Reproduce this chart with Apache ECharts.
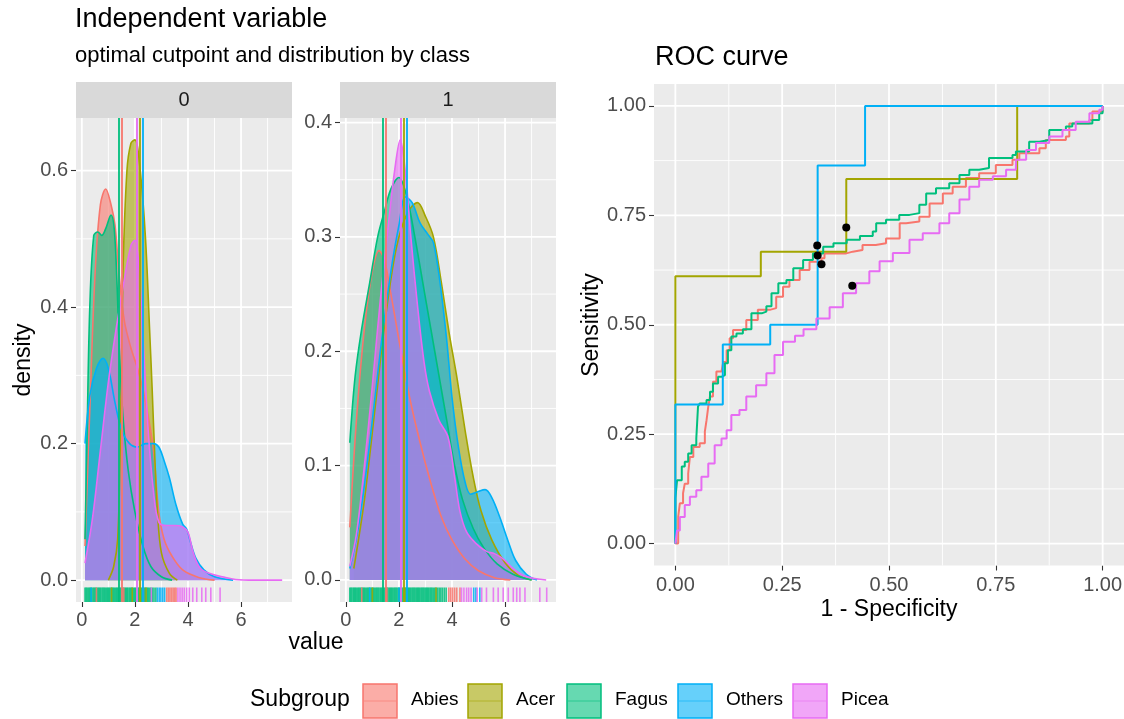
<!DOCTYPE html>
<html>
<head>
<meta charset="utf-8">
<script src="https://cdn.jsdelivr.net/npm/echarts@6/dist/echarts.min.js"></script>
<style>
  html, body { margin: 0; background: #fff; }
  #chart { width: 1124px; height: 719px; }
</style>
</head>
<body>
<div id="chart"></div>
<script>
// subgroups and ggplot default hue colours
const groups = ['Abies', 'Acer', 'Fagus', 'Others', 'Picea'];
const colors = ['#F8766D', '#A3A500', '#00BF7D', '#00B0F6', '#E76BF3'];

// optimal cutpoints (same in both facets)
const cutpoints = [1.50, 2.19, 1.40, 2.29, 2.08];

// density, class 0
const abies0 = [[0.12,0.05],[0.3,0.25],[0.5,0.45],[0.7,0.55],[0.9,0.573],[1.1,0.55],[1.25,0.52],[1.4,0.45],[1.6,0.38],[1.85,0.34],[2.1,0.31],[2.3,0.28],[2.5,0.24],[2.7,0.19],[2.9,0.1],[3.1,0.06],[3.4,0.035],[3.8,0.015],[4.4,0.004],[5.0,0]];
const acer0 = [[1.0,0],[1.2,0.02],[1.35,0.06],[1.45,0.2],[1.55,0.45],[1.7,0.6],[1.85,0.64],[2.0,0.645],[2.2,0.6],[2.4,0.5],[2.55,0.37],[2.65,0.28],[2.75,0.18],[2.85,0.1],[3.0,0.04],[3.3,0.01],[3.6,0]];
const fagus0 = [[0.12,0.06],[0.2,0.22],[0.3,0.4],[0.45,0.505],[0.6,0.51],[0.75,0.505],[0.9,0.515],[1.1,0.535],[1.22,0.515],[1.32,0.44],[1.42,0.33],[1.55,0.24],[1.75,0.16],[2.0,0.1],[2.3,0.05],[2.6,0.02],[3.0,0.005],[3.4,0]];
const others0 = [[0.12,0.2],[0.3,0.27],[0.55,0.31],[0.8,0.325],[1.0,0.31],[1.25,0.26],[1.5,0.22],[1.8,0.2],[2.1,0.195],[2.4,0.2],[2.7,0.2],[2.9,0.195],[3.1,0.175],[3.3,0.15],[3.55,0.11],[3.8,0.082],[3.95,0.075],[4.1,0.055],[4.3,0.032],[4.6,0.015],[5.0,0.005],[5.7,0]];
const picea0 = [[0.12,0.025],[0.4,0.09],[0.7,0.19],[1.0,0.29],[1.3,0.37],[1.6,0.44],[1.85,0.49],[2.0,0.498],[2.15,0.46],[2.3,0.36],[2.5,0.22],[2.7,0.13],[2.9,0.085],[3.2,0.08],[3.5,0.08],[3.8,0.078],[4.0,0.07],[4.2,0.04],[4.45,0.018],[4.8,0.01],[5.3,0.005],[5.8,0.001],[6.5,0],[7.55,0]];

// density, class 1
const abies1 = [[0.15,0.046],[0.4,0.14],[0.7,0.22],[1.0,0.27],[1.25,0.288],[1.45,0.28],[1.7,0.25],[2.0,0.21],[2.4,0.16],[2.8,0.12],[3.2,0.085],[3.6,0.055],[4.0,0.035],[4.5,0.018],[5.0,0.008],[5.6,0.002],[6.2,0]];
const acer1 = [[0.3,0.01],[0.7,0.07],[1.1,0.15],[1.5,0.23],[1.9,0.29],[2.3,0.32],[2.7,0.33],[3.0,0.318],[3.3,0.3],[3.6,0.26],[3.9,0.215],[4.2,0.175],[4.5,0.13],[4.8,0.09],[5.1,0.06],[5.5,0.035],[6.0,0.015],[6.5,0.004],[7.0,0]];
const fagus1 = [[0.15,0.12],[0.35,0.178],[0.6,0.22],[0.9,0.26],[1.2,0.3],[1.45,0.322],[1.7,0.342],[2.0,0.352],[2.3,0.335],[2.6,0.3],[2.9,0.26],[3.2,0.22],[3.5,0.18],[3.8,0.14],[4.1,0.1],[4.4,0.07],[4.8,0.045],[5.2,0.028],[5.7,0.014],[6.3,0.005],[7.0,0]];
const others1 = [[0.15,0.01],[0.5,0.05],[0.9,0.12],[1.3,0.2],[1.7,0.27],[2.0,0.31],[2.25,0.335],[2.5,0.33],[2.8,0.312],[3.1,0.302],[3.3,0.295],[3.55,0.26],[3.8,0.21],[4.0,0.16],[4.25,0.115],[4.5,0.085],[4.7,0.075],[4.95,0.077],[5.25,0.079],[5.5,0.072],[5.8,0.055],[6.1,0.035],[6.4,0.017],[6.8,0.005],[7.2,0]];
const picea1 = [[0.15,0.012],[0.4,0.04],[0.7,0.1],[1.0,0.17],[1.3,0.245],[1.6,0.31],[1.85,0.36],[2.05,0.385],[2.25,0.355],[2.45,0.3],[2.7,0.24],[2.95,0.19],[3.15,0.165],[3.5,0.14],[3.85,0.125],[4.1,0.09],[4.3,0.06],[4.55,0.042],[4.9,0.032],[5.3,0.025],[5.6,0.023],[5.95,0.018],[6.3,0.01],[6.8,0.003],[7.55,0]];

// rug values, class 0
const rugFagus0 = [0.12,0.16,0.2,0.25,0.29,0.33,0.37,0.42,0.46,0.5,0.54,0.59,0.63,0.67,0.71,0.76,0.8,0.84,0.88,0.93,0.97,1.01,1.05,1.1,1.14,1.18,1.22,1.27,1.31,1.35,1.39,1.44,1.48,1.52,1.56,1.61,1.65,1.69,1.73,1.78,1.82,1.86,1.9,1.95,1.99,2.03,2.07,2.12,2.16,2.2,2.24,2.29,2.33,2.37,2.41,2.46,2.5,2.55,2.6,2.66,2.72,2.79];
const rugAbies0 = [0.55, 1.58, 2.32, 3.2, 3.26, 3.32, 3.38, 3.44, 3.5, 3.55];
const rugAcer0 = [1.12, 1.9, 2.18, 2.42];
const rugOthers0 = [0.35, 2.85, 2.92, 2.98, 3.05, 3.12];
const rugPicea0 = [2.62, 3.62, 3.7, 3.78, 3.86, 3.95, 4.05, 4.18, 4.33, 4.52, 4.67, 4.86, 5.21];

// rug values, class 1
const rugFagus1 = [0.15,0.19,0.23,0.28,0.32,0.36,0.4,0.45,0.49,0.53,0.57,0.62,0.66,0.7,0.74,0.79,0.83,0.87,0.91,0.96,1.0,1.04,1.08,1.13,1.17,1.21,1.25,1.3,1.34,1.38,1.42,1.47,1.51,1.55,1.59,1.64,1.68,1.72,1.76,1.81,1.85,1.89,1.93,1.98,2.02,2.06,2.1,2.15,2.19,2.23,2.27,2.32,2.36,2.4,2.44,2.49,2.53,2.57,2.61,2.66,2.7,2.74,2.78,2.83,2.87,2.91,2.95,3.0,3.04,3.08,3.12,3.17,3.21,3.25,3.3,3.35,3.4,3.46,3.52,3.58,3.64,3.71,3.78];
const rugAbies1 = [0.6, 1.55, 3.88, 3.95, 4.02, 4.1, 4.18, 4.3];
const rugAcer1 = [1.0, 2.22, 3.4];
const rugOthers1 = [0.9, 2.0, 4.82, 4.9, 5.05];
const rugPicea1 = [4.36, 4.45, 4.55, 4.63, 4.72, 4.95, 5.12, 5.3, 5.56, 5.74, 5.93, 6.12, 6.31, 6.44, 6.56, 6.75, 7.31, 7.57];

// ROC curves (1 - specificity, sensitivity)
const rocAbies = [[0,0],[0.0066,0.061],[0.0105,0.092],[0.018,0.115],[0.022,0.137],[0.03,0.16],[0.034,0.198],[0.042,0.221],[0.057,0.229],[0.069,0.256],[0.073,0.282],[0.077,0.313],[0.081,0.336],[0.088,0.37],[0.096,0.393],[0.108,0.396],[0.112,0.415],[0.12,0.442],[0.127,0.469],[0.135,0.488],[0.166,0.511],[0.193,0.534],[0.221,0.538],[0.236,0.564],[0.252,0.587],[0.267,0.602],[0.291,0.625],[0.314,0.644],[0.342,0.652],[0.349,0.663],[0.376,0.663],[0.4,0.667],[0.415,0.671],[0.438,0.682],[0.469,0.686],[0.493,0.697],[0.525,0.732],[0.54,0.736],[0.571,0.747],[0.595,0.777],[0.626,0.8],[0.649,0.815],[0.68,0.835],[0.711,0.846],[0.75,0.865],[0.789,0.877],[0.805,0.892],[0.852,0.903],[0.867,0.922],[0.914,0.93],[0.922,0.96],[0.969,0.968],[0.976,0.987],[1,0.995],[1,1]];
const rocAcer = [[0,0],[0,0.611],[0.2,0.611],[0.2,0.667],[0.4,0.667],[0.4,0.833],[0.8,0.833],[0.8,1],[1,1]];
const rocFagus = [[0,0],[0,0.103],[0.004,0.145],[0.015,0.176],[0.022,0.187],[0.03,0.206],[0.038,0.225],[0.049,0.24],[0.053,0.313],[0.057,0.32],[0.073,0.328],[0.081,0.347],[0.088,0.366],[0.1,0.381],[0.108,0.385],[0.116,0.412],[0.123,0.442],[0.131,0.473],[0.143,0.48],[0.158,0.49],[0.178,0.526],[0.202,0.53],[0.213,0.542],[0.225,0.572],[0.241,0.595],[0.26,0.602],[0.276,0.629],[0.299,0.648],[0.322,0.663],[0.346,0.678],[0.37,0.686],[0.401,0.694],[0.432,0.703],[0.462,0.713],[0.47,0.732],[0.493,0.74],[0.524,0.751],[0.548,0.755],[0.571,0.774],[0.587,0.8],[0.61,0.812],[0.641,0.823],[0.665,0.842],[0.688,0.854],[0.711,0.858],[0.734,0.881],[0.789,0.888],[0.797,0.896],[0.828,0.918],[0.852,0.922],[0.875,0.945],[0.914,0.953],[0.929,0.96],[0.976,0.968],[0.992,0.983],[1,0.995],[1,1]];
const rocOthers = [[0,0],[0,0.318],[0.111,0.318],[0.111,0.455],[0.222,0.455],[0.222,0.5],[0.333,0.5],[0.333,0.864],[0.444,0.864],[0.444,1],[1,1]];
const rocPicea = [[0,0],[0.004,0.03],[0.0105,0.061],[0.022,0.088],[0.034,0.107],[0.049,0.122],[0.061,0.153],[0.077,0.183],[0.092,0.225],[0.108,0.24],[0.12,0.259],[0.131,0.294],[0.15,0.305],[0.166,0.336],[0.189,0.362],[0.213,0.389],[0.232,0.431],[0.252,0.461],[0.28,0.475],[0.3,0.49],[0.33,0.514],[0.361,0.54],[0.392,0.572],[0.423,0.595],[0.454,0.622],[0.478,0.645],[0.509,0.664],[0.548,0.694],[0.579,0.709],[0.618,0.732],[0.641,0.755],[0.665,0.786],[0.688,0.815],[0.711,0.831],[0.743,0.839],[0.774,0.854],[0.797,0.877],[0.821,0.899],[0.844,0.915],[0.875,0.93],[0.906,0.945],[0.937,0.964],[0.969,0.983],[0.992,0.991],[1,1]];
// optimal cutpoints on the ROC curves, in group order
const rocPoints = [[0.342,0.638],[0.4,0.722],[0.332,0.681],[0.333,0.658],[0.414,0.589]];

// tick labels
const densXTicks = [0, 2, 4, 6];
const densXMinor = [1, 3, 5, 7];
const dens0YTicks = [0, 0.2, 0.4, 0.6];
const dens0YMinor = [0.1, 0.3, 0.5];
const dens1YTicks = [0, 0.1, 0.2, 0.3, 0.4];
const dens1YMinor = [0.05, 0.15, 0.25, 0.35];
const rocTicks = [0, 0.25, 0.5, 0.75, 1];
const rocMinor = [0.125, 0.375, 0.625, 0.875];

const FONT = 'Liberation Sans, Arial, sans-serif';
const chart = echarts.init(document.getElementById('chart'), null, { renderer: 'canvas' });

function axis(gridIndex, min, max, ticks, fmt, margin) {
  return {
    type: 'value', gridIndex, min, max, splitNumber: 4,
    axisLine: { show: false, onZero: false },
    splitLine: { show: false },
    axisTick: { show: true, length: 5, customValues: ticks, lineStyle: { color: '#333', width: 1.1 } },
    axisLabel: { customValues: ticks, formatter: fmt, color: '#4D4D4D', fontSize: 20, fontFamily: FONT, margin }
  };
}

// white panel grid lines drawn through the axis scales
function gridSeries(idx, xMaj, xMin, yMaj, yMin) {
  const data = [];
  xMaj.forEach(v => data.push([v, 0, 1]));
  xMin.forEach(v => data.push([v, 0, 0]));
  yMaj.forEach(v => data.push([v, 1, 1]));
  yMin.forEach(v => data.push([v, 1, 0]));
  return {
    type: 'custom', xAxisIndex: idx, yAxisIndex: idx, silent: true, z: 1,
    data,
    renderItem(params, api) {
      const cs = params.coordSys;
      const v = api.value(0), dir = api.value(1), major = api.value(2);
      const style = { stroke: '#FFFFFF', lineWidth: major ? 1.8 : 0.9 };
      if (dir === 0) {
        const x = api.coord([v, 0])[0];
        return { type: 'line', shape: { x1: x, y1: cs.y, x2: x, y2: cs.y + cs.height }, style };
      }
      const y = api.coord([0, v])[1];
      return { type: 'line', shape: { x1: cs.x, y1: y, x2: cs.x + cs.width, y2: y }, style };
    }
  };
}

function rugSeries(idx, rugs) {
  const data = [];
  // Fagus first so other groups show on top of the dense band
  [2, 0, 1, 3, 4].forEach(g => rugs[g].forEach(v => data.push([v, g])));
  return {
    type: 'custom', xAxisIndex: idx, yAxisIndex: idx, silent: true, z: 3,
    data,
    renderItem(params, api) {
      const cs = params.coordSys;
      const x = api.coord([api.value(0), 0])[0];
      const h = cs.height * 0.03;
      return {
        type: 'rect',
        shape: { x: x - 0.8, y: cs.y + cs.height - h, width: 1.6, height: h },
        style: { fill: colors[api.value(1)], opacity: 0.85 }
      };
    }
  };
}

function densitySeries(idx, sets) {
  return sets.map((d, g) => ({
    type: 'line', name: groups[g], xAxisIndex: idx, yAxisIndex: idx,
    data: d, smooth: 0.35, showSymbol: false, silent: true, z: 2,
    lineStyle: { color: colors[g], width: 1.6 },
    itemStyle: { color: colors[g] },
    areaStyle: { color: colors[g], opacity: 0.6 },
    markLine: {
      symbol: 'none', silent: true, animation: false,
      label: { show: false },
      lineStyle: { color: colors[g], width: 1.8, type: 'solid', opacity: 1 },
      data: [{ xAxis: cutpoints[g] }]
    }
  }));
}

const rocSets = [rocAbies, rocAcer, rocFagus, rocOthers, rocPicea];
const rocLines = rocSets.map((d, g) => ({
  type: 'line', name: groups[g], xAxisIndex: 2, yAxisIndex: 2,
  data: d, step: 'end', showSymbol: false, silent: true, z: 2,
  lineStyle: { color: colors[g], width: 2 }
}));

// legend built from the group list
const keyX = [363, 468, 567, 678, 793];
const legendEls = [{
  type: 'text', left: 250, top: 688,
  style: { text: 'Subgroup', fontSize: 23, fontFamily: FONT, fill: '#000' }
}];
groups.forEach((name, g) => {
  legendEls.push({
    type: 'rect', shape: { x: keyX[g], y: 684, width: 34, height: 34 },
    style: { fill: echarts.color.modifyAlpha(colors[g], 0.6), stroke: colors[g], lineWidth: 1.5 }
  });
  legendEls.push({
    type: 'line', shape: { x1: keyX[g] + 1, y1: 701, x2: keyX[g] + 33, y2: 701 },
    style: { stroke: echarts.color.modifyAlpha(colors[g], 0.5), lineWidth: 1.2 }
  });
  legendEls.push({
    type: 'text', left: keyX[g] + 48, top: 690,
    style: { text: name, fontSize: 19, fontFamily: FONT, fill: '#000' }
  });
});

function strip(x, label) {
  return [
    { type: 'rect', shape: { x, y: 82, width: 216, height: 36 }, style: { fill: '#D9D9D9' } },
    { type: 'text', x: x + 108, y: 100, style: { text: label, fontSize: 20, fontFamily: FONT, fill: '#1A1A1A', align: 'center', verticalAlign: 'middle' } }
  ];
}

const option = {
  animation: false,
  grid: [
    { left: 76, top: 118, width: 216, height: 484, show: true, backgroundColor: '#EBEBEB', borderWidth: 0, outerBoundsMode: 'none' },
    { left: 340, top: 118, width: 216, height: 484, show: true, backgroundColor: '#EBEBEB', borderWidth: 0, outerBoundsMode: 'none' },
    { left: 654, top: 84, width: 470, height: 481.5, show: true, backgroundColor: '#EBEBEB', borderWidth: 0, outerBoundsMode: 'none' }
  ],
  xAxis: [
    axis(0, -0.22, 7.92, densXTicks, v => String(v), 8),
    axis(1, -0.22, 7.92, densXTicks, v => String(v), 8),
    axis(2, -0.05, 1.05, rocTicks, v => v.toFixed(2), 10)
  ],
  yAxis: [
    axis(0, -0.032, 0.677, dens0YTicks, v => v.toFixed(1), 8),
    axis(1, -0.0193, 0.404, dens1YTicks, v => v.toFixed(1), 8),
    axis(2, -0.05, 1.05, rocTicks, v => v.toFixed(2), 8)
  ],
  series: [
    gridSeries(0, densXTicks, densXMinor, dens0YTicks, dens0YMinor),
    gridSeries(1, densXTicks, densXMinor, dens1YTicks, dens1YMinor),
    gridSeries(2, rocTicks, rocMinor, rocTicks, rocMinor),
    ...densitySeries(0, [abies0, acer0, fagus0, others0, picea0]),
    ...densitySeries(1, [abies1, acer1, fagus1, others1, picea1]),
    rugSeries(0, [rugAbies0, rugAcer0, rugFagus0, rugOthers0, rugPicea0]),
    rugSeries(1, [rugAbies1, rugAcer1, rugFagus1, rugOthers1, rugPicea1]),
    ...rocLines,
    {
      type: 'scatter', xAxisIndex: 2, yAxisIndex: 2, data: rocPoints, silent: true, z: 4,
      symbolSize: 8, itemStyle: { color: '#000', opacity: 1 }
    }
  ],
  graphic: [
    { type: 'text', left: 75, top: 6, style: { text: 'Independent variable', fontSize: 27, fontFamily: FONT, fill: '#000' } },
    { type: 'text', left: 75, top: 45, style: { text: 'optimal cutpoint and distribution by class', fontSize: 22, fontFamily: FONT, fill: '#000' } },
    { type: 'text', left: 655, top: 44, style: { text: 'ROC curve', fontSize: 27, fontFamily: FONT, fill: '#000' } },
    ...strip(76, '0'),
    ...strip(340, '1'),
    { type: 'text', x: 24, y: 360, rotation: Math.PI / 2, style: { text: 'density', fontSize: 23, fontFamily: FONT, fill: '#000', align: 'center', verticalAlign: 'middle' } },
    { type: 'text', x: 316, y: 643, style: { text: 'value', fontSize: 23, fontFamily: FONT, fill: '#000', align: 'center', verticalAlign: 'middle' } },
    { type: 'text', x: 592, y: 325, rotation: Math.PI / 2, style: { text: 'Sensitivity', fontSize: 23, fontFamily: FONT, fill: '#000', align: 'center', verticalAlign: 'middle' } },
    { type: 'text', x: 889, y: 610, style: { text: '1 - Specificity', fontSize: 23, fontFamily: FONT, fill: '#000', align: 'center', verticalAlign: 'middle' } },
    ...legendEls
  ]
};

chart.setOption(option);
</script>
</body>
</html>
